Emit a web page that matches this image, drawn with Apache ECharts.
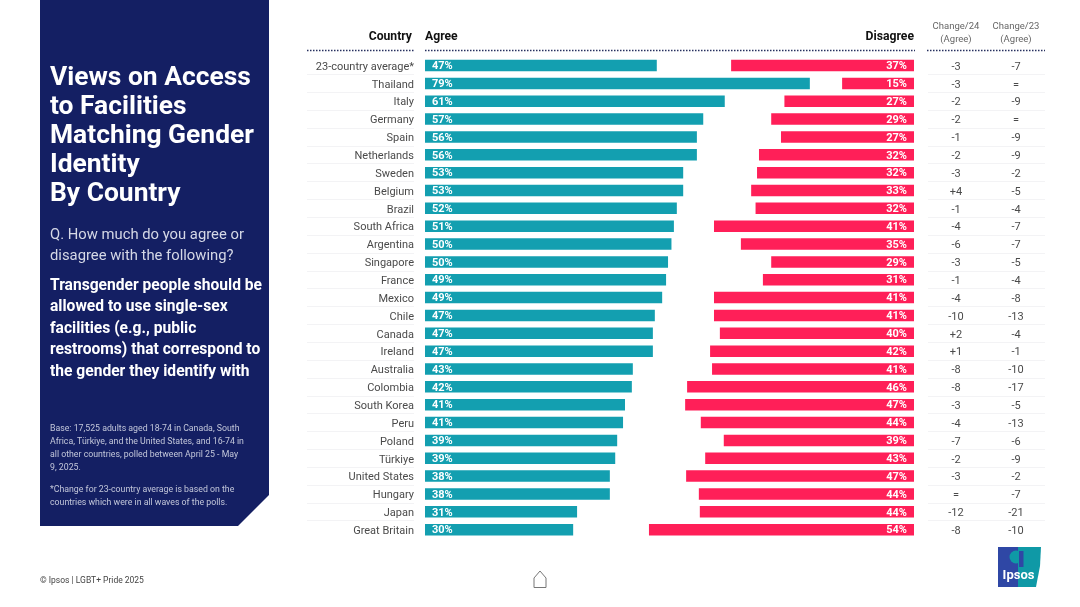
<!DOCTYPE html>
<html>
<head>
<meta charset="utf-8">
<style>
html, body { margin: 0; padding: 0; background: #fff; }
#main { width: 1080px; height: 607px; }
</style>
<script src="https://cdn.jsdelivr.net/npm/echarts@6/dist/echarts.min.js"></script>
</head>
<body>
<div id="main"></div>
<script>
var countries = ['23-country average*', 'Thailand', 'Italy', 'Germany', 'Spain', 'Netherlands', 'Sweden', 'Belgium', 'Brazil', 'South Africa', 'Argentina', 'Singapore', 'France', 'Mexico', 'Chile', 'Canada', 'Ireland', 'Australia', 'Colombia', 'South Korea', 'Peru', 'Poland', 'Türkiye', 'United States', 'Hungary', 'Japan', 'Great Britain'];
var agree = [47.4, 78.7, 61.3, 56.9, 55.6, 55.6, 52.8, 52.8, 51.5, 50.9, 50.4, 49.7, 49.3, 48.5, 47.0, 46.6, 46.6, 42.5, 42.3, 40.9, 40.5, 39.3, 38.9, 37.8, 37.8, 31.1, 30.3];
var disagree = [37.4, 14.7, 26.5, 29.2, 27.2, 31.7, 32.1, 33.3, 32.4, 40.9, 35.4, 29.2, 30.9, 40.9, 40.9, 39.7, 41.7, 41.3, 46.4, 46.8, 43.6, 38.9, 42.7, 46.6, 44.0, 43.8, 54.2];
var change24 = ['-3', '-3', '-2', '-2', '-1', '-2', '-3', '+4', '-1', '-4', '-6', '-3', '-1', '-4', '-10', '+2', '+1', '-8', '-8', '-3', '-4', '-7', '-2', '-3', '=', '-12', '-8'];
var change23 = ['-7', '=', '-9', '=', '-9', '-9', '-2', '-5', '-4', '-7', '-7', '-5', '-4', '-8', '-13', '-4', '-1', '-10', '-17', '-5', '-13', '-6', '-9', '-2', '-7', '-21', '-10'];

var FONT = 'Roboto, sans-serif';
var NAVY = '#141f63';
var SEP = '#f3f3f5';
var rowTop = 56.6, rowsHeight = 482;

function pctLabel(p) {
    return Math.round(p.value) + '%';
}
function text(x, y, str, size, weight, fill, align, lineHeight) {
    return {
        type: 'text', x: x, y: y, silent: true,
        style: {
            text: str, fill: fill, align: align || 'left', verticalAlign: 'top',
            font: weight + ' ' + size + 'px ' + FONT, lineHeight: lineHeight || size * 1.2
        }
    };
}
function dotted(x1, x2) {
    return {
        type: 'line', silent: true,
        shape: { x1: x1, y1: 50.5, x2: x2, y2: 50.5 },
        style: { stroke: '#27305f', lineWidth: 1.5, lineDash: [1.5, 1.5] }
    };
}
function tableAxis(data, grid, position, offset, align, inside, sep) {
    return {
        gridIndex: grid, type: 'category', inverse: true, data: data, position: position, offset: offset,
        axisLine: { show: false }, axisTick: { show: false },
        // top-aligned with a short line box: sits the text a little under the row centre
        axisLabel: { inside: inside, margin: 0, interval: 0, align: align, verticalAlign: 'top', lineHeight: 3, color: '#4a4a4a', fontFamily: FONT, fontSize: 11 },
        splitLine: { show: sep, interval: 0, showMinLine: false, showMaxLine: false, lineStyle: { color: SEP, width: 1 } }
    };
}

var myChart = echarts.init(document.getElementById('main'));
var option = {
    animation: false,
    backgroundColor: '#fff',
    grid: [
        { left: 425, width: 489, top: rowTop, height: rowsHeight },
        { left: 307, width: 107, top: rowTop, height: rowsHeight },
        { left: 928, width: 117, top: rowTop, height: rowsHeight }
    ],
    xAxis: [
        { gridIndex: 0, type: 'value', min: 0, max: 100, show: false },
        { gridIndex: 0, type: 'value', min: 0, max: 100, inverse: true, show: false },
        { gridIndex: 1, type: 'value', show: false },
        { gridIndex: 2, type: 'value', show: false }
    ],
    yAxis: [
        { gridIndex: 0, type: 'category', inverse: true, data: countries, show: false },
        tableAxis(countries, 1, 'right', 0, 'right', true, true),
        tableAxis(change24, 2, 'left', -28, 'center', false, true),
        tableAxis(change23, 2, 'right', -29, 'center', false, false)
    ],
    series: [
        {
            name: 'Agree', type: 'bar', xAxisIndex: 0, yAxisIndex: 0, data: agree, barWidth: 11.5, barGap: '-100%',
            itemStyle: { color: '#139fb0' },
            label: { show: true, position: 'insideLeft', distance: 7, formatter: pctLabel, color: '#fff', fontFamily: FONT, fontWeight: 'bold', fontSize: 11, verticalAlign: 'top', lineHeight: 2 }
        },
        {
            name: 'Disagree', type: 'bar', xAxisIndex: 1, yAxisIndex: 0, data: disagree, barWidth: 11.5, barGap: '-100%',
            itemStyle: { color: '#ff1f58' },
            label: { show: true, position: 'insideRight', distance: 7, formatter: pctLabel, color: '#fff', fontFamily: FONT, fontWeight: 'bold', fontSize: 11, verticalAlign: 'top', lineHeight: 2 }
        }
    ],
    graphic: { elements: [
        { type: 'polygon', silent: true, shape: { points: [[40, 0], [269, 0], [269, 495], [238, 526], [40, 526]] }, style: { fill: NAVY } },
        text(50, 64, 'Views on Access\nto Facilities\nMatching Gender\nIdentity\nBy Country', 26.4, 'bold', '#fff', 'left', 29),
        text(50, 225, 'Q. How much do you agree or\ndisagree with the following?', 14.8, 'normal', '#d5d8e6', 'left', 21),
        text(50, 275, 'Transgender people should be\nallowed to use single-sex\nfacilities (e.g., public\nrestrooms) that correspond to\nthe gender they identify with', 15.6, 'bold', '#fff', 'left', 21.5),
        text(50, 422, 'Base: 17,525 adults aged 18-74 in Canada, South\nAfrica, Türkiye, and the United States, and 16-74 in\nall other countries, polled between April 25 - May\n9, 2025.', 8.75, 'normal', '#c3c7da', 'left', 13),
        text(50, 483, '*Change for 23-country average is based on the\ncountries which were in all waves of the polls.', 8.75, 'normal', '#c3c7da', 'left', 13),
        text(412, 30, 'Country', 12.2, 'bold', '#111', 'right'),
        text(425, 30, 'Agree', 12.2, 'bold', '#111', 'left'),
        text(914, 30, 'Disagree', 12.2, 'bold', '#111', 'right'),
        text(956, 20.5, 'Change/24\n(Agree)', 9.5, 'normal', '#666', 'center', 12.5),
        text(1016, 20.5, 'Change/23\n(Agree)', 9.5, 'normal', '#666', 'center', 12.5),
        dotted(307, 414),
        dotted(425, 915),
        dotted(927, 1045),
        text(40, 576, '© Ipsos | LGBT+ Pride 2025', 8.5, 'normal', '#444', 'left'),
        {
            type: 'polyline', silent: true,
            shape: { points: [[534, 578], [540, 571], [546, 578], [546, 587.5], [534, 587.5], [534, 578]] },
            style: { stroke: '#777', fill: 'none', lineWidth: 1 }
        },
        { type: 'rect', silent: true, shape: { x: 998, y: 547, width: 22, height: 40 }, style: { fill: '#2f47a5' } },
        { type: 'polygon', silent: true, shape: { points: [[1018, 547], [1041, 547], [1040, 566], [1036, 587], [1018, 587]] }, style: { fill: '#0f99a6' } },
        { type: 'circle', silent: true, shape: { cx: 1016, cy: 557, r: 6.5 }, style: { fill: '#0f99a6' } },
        { type: 'rect', silent: true, shape: { x: 1019, y: 551, width: 4.5, height: 16 }, style: { fill: '#2f47a5' } },
        text(1018.5, 568, 'Ipsos', 13, 'bold', '#fff', 'center')
    ] }
};
myChart.setOption(option);
</script>
</body>
</html>
